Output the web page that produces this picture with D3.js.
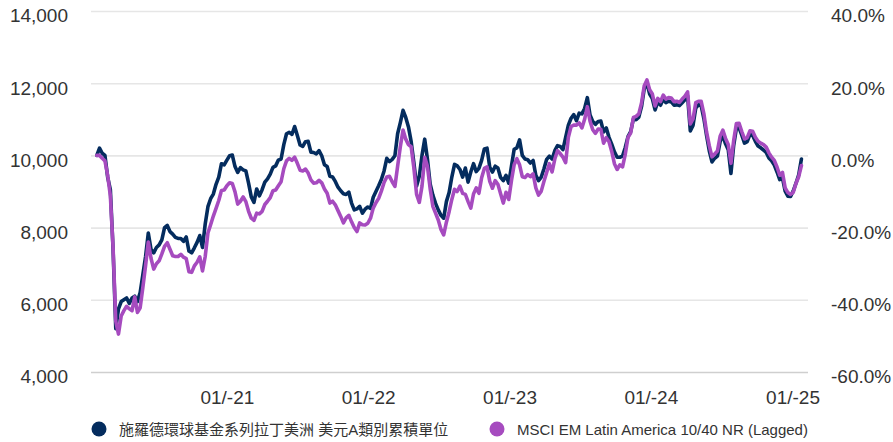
<!DOCTYPE html>
<html>
<head>
<meta charset="utf-8">
<script src="https://cdn.jsdelivr.net/npm/d3@7"></script>
<style>
  html, body { margin: 0; padding: 0; background: #ffffff; }
  svg { display: block; }
  text { font-family: "Liberation Sans", Arial, "Noto Sans CJK TC", sans-serif; }
</style>
</head>
<body>
<svg id="chart" width="893" height="442"></svg>
<script>
// ---------- DATA ----------
const dates = [
  "2020-01-31",
  "2020-02-07","2020-02-14","2020-02-21","2020-02-28",
  "2020-03-06","2020-03-13","2020-03-20","2020-03-27",
  "2020-04-03","2020-04-10","2020-04-17","2020-04-24",
  "2020-05-01","2020-05-08","2020-05-15","2020-05-22","2020-05-29",
  "2020-06-05","2020-06-12","2020-06-19","2020-06-26",
  "2020-07-03","2020-07-10","2020-07-17","2020-07-24","2020-07-31",
  "2020-08-07","2020-08-14","2020-08-21","2020-08-28",
  "2020-09-04","2020-09-11","2020-09-18","2020-09-25",
  "2020-10-02","2020-10-09","2020-10-16","2020-10-23","2020-10-30",
  "2020-11-06","2020-11-13","2020-11-20","2020-11-27",
  "2020-12-04","2020-12-11","2020-12-18","2020-12-25",
  "2021-01-01","2021-01-08","2021-01-15","2021-01-22","2021-01-29",
  "2021-02-05","2021-02-12","2021-02-19","2021-02-26",
  "2021-03-05","2021-03-12","2021-03-19","2021-03-26",
  "2021-04-02","2021-04-09","2021-04-16","2021-04-23","2021-04-30",
  "2021-05-07","2021-05-14","2021-05-21","2021-05-28",
  "2021-06-04","2021-06-11","2021-06-18","2021-06-25",
  "2021-07-02","2021-07-09","2021-07-16","2021-07-23","2021-07-30",
  "2021-08-06","2021-08-13","2021-08-20","2021-08-27",
  "2021-09-03","2021-09-10","2021-09-17","2021-09-24",
  "2021-10-01","2021-10-08","2021-10-15","2021-10-22","2021-10-29",
  "2021-11-05","2021-11-12","2021-11-19","2021-11-26",
  "2021-12-03","2021-12-10","2021-12-17","2021-12-24","2021-12-31",
  "2022-01-07","2022-01-14","2022-01-21","2022-01-28",
  "2022-02-04","2022-02-11","2022-02-18","2022-02-25",
  "2022-03-04","2022-03-11","2022-03-18","2022-03-25",
  "2022-04-01","2022-04-08","2022-04-15","2022-04-22","2022-04-29",
  "2022-05-06","2022-05-13","2022-05-20","2022-05-27",
  "2022-06-03","2022-06-10","2022-06-17","2022-06-24",
  "2022-07-01","2022-07-08","2022-07-15","2022-07-22","2022-07-29",
  "2022-08-05","2022-08-12","2022-08-19","2022-08-26",
  "2022-09-02","2022-09-09","2022-09-16","2022-09-23","2022-09-30",
  "2022-10-07","2022-10-14","2022-10-21","2022-10-28",
  "2022-11-04","2022-11-11","2022-11-18","2022-11-25",
  "2022-12-02","2022-12-09","2022-12-16","2022-12-23","2022-12-30",
  "2023-01-06","2023-01-13","2023-01-20","2023-01-27",
  "2023-02-03","2023-02-10","2023-02-17","2023-02-24",
  "2023-03-03","2023-03-10","2023-03-17","2023-03-24","2023-03-31",
  "2023-04-07","2023-04-14","2023-04-21","2023-04-28",
  "2023-05-05","2023-05-12","2023-05-19","2023-05-26",
  "2023-06-02","2023-06-09","2023-06-16","2023-06-23","2023-06-30",
  "2023-07-07","2023-07-14","2023-07-21","2023-07-28",
  "2023-08-04","2023-08-11","2023-08-18","2023-08-25",
  "2023-09-01","2023-09-08","2023-09-15","2023-09-22","2023-09-29",
  "2023-10-06","2023-10-13","2023-10-20","2023-10-27",
  "2023-11-03","2023-11-10","2023-11-17","2023-11-24",
  "2023-12-01","2023-12-08","2023-12-15","2023-12-22","2023-12-29",
  "2024-01-05","2024-01-12","2024-01-19","2024-01-26",
  "2024-02-02","2024-02-09","2024-02-16","2024-02-23",
  "2024-03-01","2024-03-08","2024-03-15","2024-03-22","2024-03-29",
  "2024-04-05","2024-04-12","2024-04-19","2024-04-26",
  "2024-05-03","2024-05-10","2024-05-17","2024-05-24","2024-05-31",
  "2024-06-07","2024-06-14","2024-06-21","2024-06-28",
  "2024-07-05","2024-07-12","2024-07-19","2024-07-26",
  "2024-08-02","2024-08-09","2024-08-16","2024-08-23","2024-08-30",
  "2024-09-06","2024-09-13","2024-09-20","2024-09-27",
  "2024-10-04","2024-10-11","2024-10-18","2024-10-25",
  "2024-11-01","2024-11-08","2024-11-15","2024-11-22","2024-11-29",
  "2024-12-06","2024-12-13","2024-12-20","2024-12-27",
  "2025-01-03","2025-01-10","2025-01-17","2025-01-24"
];

const fundValues = [
  10000,10200,10060,10000,9400,9050,7400,5200,5750,5950,
  6000,6050,5900,6050,6100,5950,6200,6700,7200,7850,
  7400,7300,7450,7520,7660,8000,8060,7890,7820,7730,
  7700,7700,7620,7740,7350,7300,7440,7590,7780,7450,
  8100,8580,8800,8930,9200,9400,9770,9740,9870,9990,
  10010,9690,9530,9660,9600,9570,9230,8850,8700,9070,
  8880,9050,9260,9350,9480,9670,9710,9870,9900,10300,
  10600,10640,10580,10800,10550,10290,10250,10380,10390,10090,
  10080,10040,10130,9990,9740,9690,9420,9400,9280,9120,
  9020,8940,8920,8980,8680,8490,8520,8590,8400,8510,
  8570,8530,8840,9000,9160,9330,9570,9920,9830,9890,
  9990,10600,10910,11250,11050,10790,10380,9800,9150,9420,
  10000,10450,9900,9210,8900,8670,8490,8340,8260,8720,
  8970,9400,9750,9710,9610,9400,9650,9260,9540,9770,
  9550,9640,9860,10180,10200,9670,9540,9700,9650,9390,
  9300,9450,9230,9700,10170,10210,10430,10000,9900,9880,
  9790,9860,9450,9300,9400,9630,9890,9980,9900,10130,
  10270,10250,10160,10500,10840,11030,11130,10960,11170,11150,
  11300,11600,11120,10940,10860,10940,10950,10650,10760,10500,
  10310,10100,9950,9950,9980,10220,10520,10660,11010,10990,
  11060,11350,11850,12000,11700,11570,11260,11480,11390,11560,
  11460,11500,11480,11390,11400,11380,11460,11540,11650,10680,
  10830,11310,11400,11380,11020,10550,10130,9820,9920,9980,
  10380,10560,10320,10160,9500,10270,10750,10760,10560,10340,
  10380,10580,10550,10390,10260,10210,10150,10080,9930,9850,
  9730,9540,9330,9380,9010,8870,8860,9020,9230,9460,9900
];

const indexValues = [
  10000,10000,9920,9850,9450,8880,7450,5400,5050,5550,
  5700,5820,5750,5700,6080,5650,5780,6350,6950,7600,
  7150,6850,7000,7080,7270,7480,7580,7400,7220,7200,
  7200,7260,7180,7140,6780,6760,6940,7040,7190,6800,
  7200,7850,8080,8320,8530,8750,9030,9040,9160,9240,
  9220,8990,8650,8730,8850,8720,8450,8260,8200,8400,
  8380,8450,8640,8730,8830,9020,9040,9160,9270,9630,
  9850,9920,9860,9950,9780,9590,9570,9620,9510,9320,
  9230,9240,9310,9240,9070,8950,8680,8730,8630,8470,
  8310,8130,8270,8340,8160,8000,7890,8130,8080,8070,
  8120,8260,8540,8690,8810,9010,9250,9400,9420,9270,
  9140,9700,10240,10700,10450,10300,10240,9650,8920,8700,
  9150,9950,9700,9080,8590,8400,8210,7950,7800,8150,
  8440,8780,9060,9000,9150,8950,8920,8720,8540,8930,
  9100,8950,9380,9640,9680,9280,9090,9300,9200,8940,
  8680,8980,8780,9300,9740,9910,9740,9410,9390,9470,
  9410,9490,9100,8900,9010,9280,9530,9770,9540,9900,
  10130,10050,9950,9800,10500,10800,10840,10840,10900,10760,
  11000,11350,10950,10710,10610,10730,10720,10340,10490,10380,
  10110,9770,9610,9740,9680,10030,10500,10620,11050,11080,
  11150,11450,11930,12090,11820,11700,11370,11580,11490,11670,
  11560,11600,11590,11490,11500,11470,11560,11640,11760,10870,
  11010,11460,11500,11500,11160,10650,10270,9960,10040,10120,
  10530,10700,10470,10300,9780,10410,10880,10890,10660,10460,
  10490,10680,10670,10500,10390,10340,10300,10230,10070,9950,
  9860,9680,9450,9530,9100,8970,8920,8980,9230,9410,9720
];

const seriesNames = ["施羅德環球基金系列拉丁美洲 美元A類別累積單位", "MSCI EM Latin America 10/40 NR (Lagged)"];
const leftTicks = [4000, 6000, 8000, 10000, 12000, 14000];
const leftTickLabels = ["4,000", "6,000", "8,000", "10,000", "12,000", "14,000"];
const rightTicks = [-0.6, -0.4, -0.2, 0, 0.2, 0.4];
const rightTickLabels = ["-60.0%", "-40.0%", "-20.0%", "0.0%", "20.0%", "40.0%"];
const xTickDates = ["2021-01-01", "2022-01-01", "2023-01-01", "2024-01-01", "2025-01-01"];
const xTickLabels = ["01/-21", "01/-22", "01/-23", "01/-24", "01/-25"];

// ---------- LAYOUT ----------
const colors = ["#042c5e", "#a64bbf"];
const plotLeft = 91, plotRight = 808, plotTop = 11, plotBottom = 372;
const xDomain = [new Date("2020-01-16T00:00:00Z"), new Date("2025-02-10T00:00:00Z")];

const svg = d3.select("#chart");
svg.append("rect").attr("width", 893).attr("height", 442).attr("fill", "#fff");

const x = d3.scaleUtc().domain(xDomain).range([plotLeft, plotRight]);
const y = d3.scaleLinear().domain([4000, 14000]).range([plotBottom, plotTop]);
const yPct = d3.scaleLinear().domain([-0.6, 0.4]).range([plotBottom, plotTop]);

// left axis with gridlines
const gLeft = svg.append("g")
  .attr("transform", `translate(${plotLeft},0)`)
  .call(d3.axisLeft(y)
    .tickValues(leftTicks)
    .tickSize(-(plotRight - plotLeft))
    .tickPadding(23)
    .tickFormat((d, i) => leftTickLabels[i]));
gLeft.select(".domain").remove();
gLeft.selectAll(".tick line")
  .attr("stroke", d => d === 4000 ? "#cfcfcf" : "#e6e6e6")
  .attr("stroke-width", 1.6);
gLeft.selectAll(".tick text")
  .attr("dy", null).attr("y", 10.8)
  .attr("fill", "#333").style("font-size", "19px");

// right axis
const gRight = svg.append("g")
  .attr("transform", `translate(${plotRight},0)`)
  .call(d3.axisRight(yPct)
    .tickValues(rightTicks)
    .tickSize(0)
    .tickPadding(23)
    .tickFormat((d, i) => rightTickLabels[i]));
gRight.select(".domain").remove();
gRight.selectAll(".tick text")
  .attr("dy", null).attr("y", 10.8)
  .attr("fill", "#333").style("font-size", "19px");

// bottom axis
const gBottom = svg.append("g")
  .attr("transform", `translate(0,${plotBottom})`)
  .call(d3.axisBottom(x)
    .tickValues(xTickDates.map(s => new Date(s + "T00:00:00Z")))
    .tickSize(0)
    .tickFormat((d, i) => xTickLabels[i]));
gBottom.select(".domain").remove();
gBottom.selectAll(".tick text")
  .attr("dy", null).attr("y", 32)
  .attr("fill", "#333").style("font-size", "19px");

// lines
const parsed = dates.map(s => new Date(s + "T00:00:00Z"));
const line = d3.line()
  .x(d => x(d[0]))
  .y(d => y(d[1]))
  .curve(d3.curveLinear);

[fundValues, indexValues].forEach((vals, k) => {
  svg.append("path")
    .datum(parsed.map((d, i) => [d, vals[i]]))
    .attr("fill", "none")
    .attr("stroke", colors[k])
    .attr("stroke-width", 3.6)
    .attr("stroke-linejoin", "round")
    .attr("stroke-linecap", "round")
    .attr("d", line);
});

// legend
const legendX = [99, 497];
const legend = svg.append("g");
seriesNames.forEach((name, k) => {
  legend.append("circle")
    .attr("cx", legendX[k]).attr("cy", 429).attr("r", 7.5)
    .attr("fill", colors[k]);
  legend.append("text")
    .attr("x", legendX[k] + 20).attr("y", 434.5)
    .attr("fill", "#333")
    .style("font-size", "15px")
    .text(name);
});
</script>
</body>
</html>
